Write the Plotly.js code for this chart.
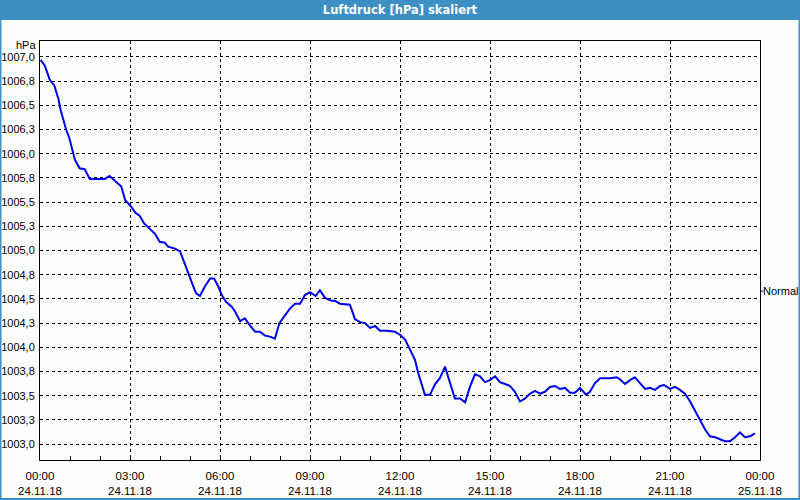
<!DOCTYPE html>
<html>
<head>
<meta charset="utf-8">
<script src="https://cdn.plot.ly/plotly-3.0.1.min.js"></script>
<style>html,body{margin:0;padding:0;background:#fcfefc;}#chart{width:800px;height:500px;}</style>
</head>
<body>
<div id="chart"></div>
<script>
// Time of day in hours (24.11.18 00:00 = 0)
const hours = [
  0.02,0.16,0.24,0.33,0.47,0.54,0.62,0.69,0.78,0.87,0.98,1.07,1.16,1.32,1.49,1.66,2.16,2.32,2.54,2.71,2.84,
  3.02,3.18,3.32,3.47,3.66,3.84,3.99,4.16,4.27,4.50,4.67,4.78,4.94,5.11,5.20,5.33,5.50,5.67,5.80,5.94,
  6.06,6.20,6.39,6.50,6.67,6.83,6.94,7.17,7.33,7.50,7.67,7.83,7.98,8.17,8.33,8.50,8.67,8.83,
  9.00,9.19,9.33,9.50,9.72,9.83,10.00,10.33,10.50,10.67,10.83,11.00,11.17,11.33,11.56,11.83,
  12.00,12.17,12.33,12.50,12.61,12.72,12.83,13.00,13.17,13.33,13.50,13.83,14.00,14.17,14.33,14.50,14.67,14.83,
  15.00,15.17,15.33,15.50,15.67,15.83,16.00,16.17,16.33,16.50,16.67,16.83,17.00,17.17,17.33,17.50,17.67,17.83,
  18.00,18.20,18.33,18.50,18.67,19.00,19.22,19.33,19.50,19.67,19.83,20.00,20.17,20.33,20.50,20.67,20.80,
  21.00,21.17,21.33,21.50,21.67,21.83,22.00,22.17,22.33,22.50,22.67,22.83,23.00,23.17,23.33,23.50,23.67,23.83
];
// Air pressure in hPa
const pressure = [
  1006.97,1006.91,1006.84,1006.76,1006.71,1006.64,1006.56,1006.45,1006.35,1006.25,1006.16,1006.04,1005.94,1005.85,1005.84,1005.74,1005.74,1005.77,1005.71,1005.66,1005.52,
  1005.46,1005.39,1005.36,1005.28,1005.22,1005.17,1005.09,1005.08,1005.04,1005.02,1004.99,1004.90,1004.75,1004.63,1004.56,1004.53,1004.63,1004.71,1004.71,1004.63,
  1004.54,1004.47,1004.42,1004.37,1004.27,1004.30,1004.25,1004.16,1004.16,1004.12,1004.11,1004.09,1004.25,1004.33,1004.40,1004.45,1004.45,1004.54,
  1004.57,1004.53,1004.59,1004.51,1004.48,1004.48,1004.45,1004.44,1004.29,1004.26,1004.25,1004.20,1004.22,1004.17,1004.17,1004.16,
  1004.13,1004.08,1003.97,1003.87,1003.73,1003.61,1003.51,1003.51,1003.62,1003.68,1003.80,1003.47,1003.47,1003.43,1003.59,1003.72,1003.70,1003.64,
  1003.66,1003.70,1003.64,1003.62,1003.60,1003.54,1003.44,1003.47,1003.52,1003.55,1003.52,1003.54,1003.59,1003.60,1003.57,1003.58,1003.53,1003.53,
  1003.58,1003.51,1003.54,1003.63,1003.68,1003.68,1003.69,1003.67,1003.62,1003.66,1003.69,1003.63,1003.57,1003.58,1003.56,1003.60,1003.61,
  1003.57,1003.59,1003.56,1003.52,1003.44,1003.35,1003.25,1003.15,1003.08,1003.07,1003.05,1003.03,1003.03,1003.07,1003.12,1003.07,1003.08,1003.11
];
const xTickVals = [0,3,6,9,12,15,18,21,24];
const xTickText = ["00:00<br>24.11.18","03:00<br>24.11.18","06:00<br>24.11.18","09:00<br>24.11.18","12:00<br>24.11.18",
                   "15:00<br>24.11.18","18:00<br>24.11.18","21:00<br>24.11.18","00:00<br>25.11.18"];
const yTickVals = [1003.0,1003.25,1003.5,1003.75,1004.0,1004.25,1004.5,1004.75,1005.0,1005.25,1005.5,1005.75,1006.0,1006.25,1006.5,1006.75,1007.0];
const yTickText = ["1003,0","1003,3","1003,5","1003,8","1004,0","1004,3","1004,5","1004,8","1005,0","1005,3","1005,5","1005,8","1006,0","1006,3","1006,5","1006,8","1007,0"];
const normalValue = 1004.58;
const titleText = "Luftdruck [hPa] skaliert";
const unitText = "hPa";
const normalText = "Normal";

const FONT = "Liberation Sans, Arial, sans-serif";
const TFONT = "DejaVu Sans, Verdana, sans-serif";
const BLUE = "#3d8fc6";

const trace = {
  x: hours, y: pressure, type: "scatter", mode: "lines",
  line: {color: "#0000f0", width: 2}, hoverinfo: "skip", showlegend: false
};

const layout = {
  width: 800, height: 500,
  margin: {l: 40, r: 40, t: 41, b: 40},
  paper_bgcolor: "#fcfefc", plot_bgcolor: "#fcfefc",
  font: {family: FONT, size: 11, color: "#000"},
  title: {text: "<b>" + titleText + "</b>", x: 0.5, xanchor: "center", y: 0.981, yanchor: "middle",
          yref: "container", font: {family: TFONT, size: 11.5, color: "#fff"}},
  xaxis: {
    range: [0, 24], tickmode: "array", tickvals: xTickVals, ticktext: xTickText,
    showline: true, linecolor: "#000", linewidth: 1, mirror: true,
    ticks: "inside", ticklen: 4, tickcolor: "#000", ticklabelstandoff: 5,
    showgrid: true, gridcolor: "#000", gridwidth: 1, griddash: "3px,3px",
    zeroline: false, fixedrange: true,
    minor: {tickmode: "linear", tick0: 0, dtick: 1, ticks: "inside", ticklen: 4, tickcolor: "#000", showgrid: false},
    tickfont: {family: FONT, size: 11.5, color: "#000"}
  },
  yaxis: {
    range: [1002.835, 1007.165], tickmode: "array", tickvals: yTickVals, ticktext: yTickText,
    showline: true, linecolor: "#000", linewidth: 1, mirror: true,
    ticks: "", ticklabelstandoff: 2,
    showgrid: true, gridcolor: "#000", gridwidth: 1, griddash: "3px,3px",
    zeroline: false, fixedrange: true,
    tickfont: {family: FONT, size: 11, color: "#000"}
  },
  shapes: [
    {type: "rect", xref: "paper", yref: "paper", x0: -0.0556, x1: 1.0556, y0: 1.0501, y1: 1.0979,
     fillcolor: BLUE, line: {width: 0}, layer: "below"},
    {type: "rect", xref: "paper", yref: "paper", x0: -0.0549, x1: 1.0549, y0: -0.0931, y1: 1.0979,
     fillcolor: "rgba(0,0,0,0)", line: {color: BLUE, width: 2}, layer: "above"},
    {type: "line", xref: "paper", yref: "y", x0: 1, x1: 1.0045, y0: normalValue, y1: normalValue,
     line: {color: "#000", width: 1}}
  ],
  annotations: [
    {text: unitText, xref: "paper", yref: "paper", x: 0, y: 0.9905, xanchor: "right", yanchor: "middle",
     xshift: -2, showarrow: false, font: {family: FONT, size: 11, color: "#000"}},
    {text: normalText, xref: "paper", yref: "y", x: 1, y: normalValue, xanchor: "left", yanchor: "middle",
     xshift: 1, showarrow: false, font: {family: FONT, size: 11, color: "#000"}}
  ]
};

Plotly.newPlot("chart", [trace], layout, {displayModeBar: false, staticPlot: true});
</script>
</body>
</html>
